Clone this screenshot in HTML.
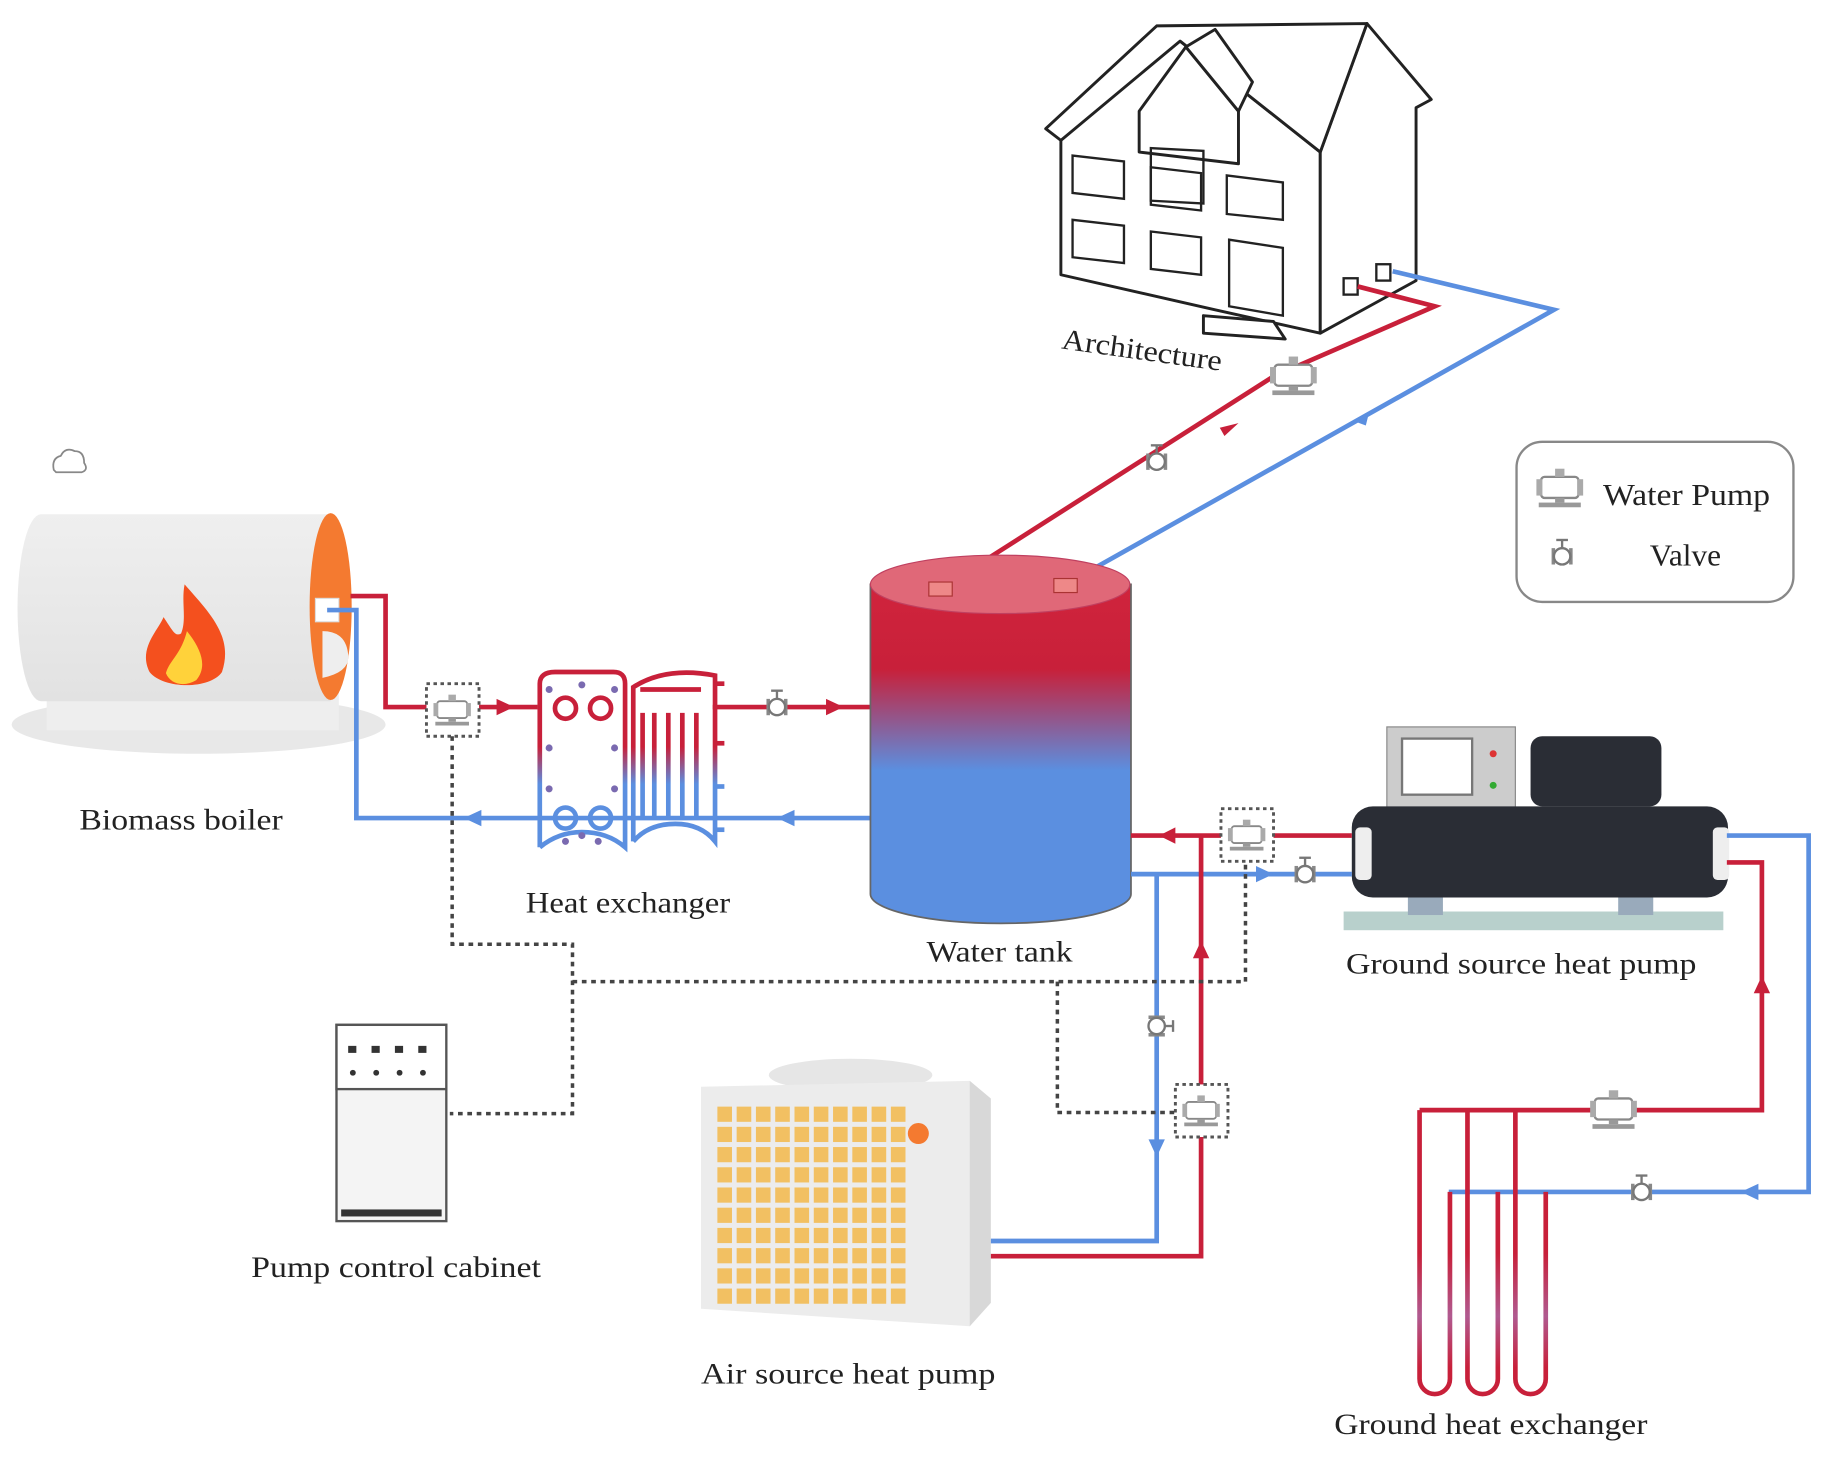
<!DOCTYPE html>
<html><head><meta charset="utf-8"><style>
html,body{margin:0;padding:0;background:#fff}
svg{display:block}
text{font-family:"Liberation Serif",serif;fill:#222}
</style></head><body>
<svg width="1832" height="1462" viewBox="0 0 1568 1251" xmlns="http://www.w3.org/2000/svg">
<defs>
<linearGradient id="tank" x1="0" y1="0" x2="0" y2="1">
<stop offset="0" stop-color="#d0243c"/><stop offset="0.25" stop-color="#c8203a"/><stop offset="0.55" stop-color="#5b8fe0"/><stop offset="1" stop-color="#5b8fe0"/></linearGradient>
<linearGradient id="hx" gradientUnits="userSpaceOnUse" x1="0" y1="575" x2="0" y2="735">
<stop offset="0" stop-color="#c8203a"/><stop offset="0.4" stop-color="#c8203a"/><stop offset="0.6" stop-color="#5b8fe0"/><stop offset="1" stop-color="#5b8fe0"/></linearGradient>
<linearGradient id="gh" gradientUnits="userSpaceOnUse" x1="0" y1="950" x2="0" y2="1195">
<stop offset="0" stop-color="#c8203a"/><stop offset="0.5" stop-color="#c8203a"/><stop offset="0.72" stop-color="#b05a90"/><stop offset="0.9" stop-color="#c8203a"/><stop offset="1" stop-color="#c8203a"/></linearGradient>
<linearGradient id="boil" x1="0" y1="0" x2="0" y2="1">
<stop offset="0" stop-color="#efefef"/><stop offset="1" stop-color="#e2e2e2"/></linearGradient>
<g id="valve"><rect x="-9" y="-7" width="3" height="14" fill="#888"/><rect x="6" y="-7" width="3" height="14" fill="#888"/><circle r="7" fill="#fff" stroke="#777" stroke-width="2"/><line x1="0" y1="-7" x2="0" y2="-14" stroke="#777" stroke-width="2"/><line x1="-5" y1="-14" x2="5" y2="-14" stroke="#777" stroke-width="2"/></g>
<g id="pump"><rect x="-16" y="-10" width="32" height="18" rx="3" fill="#fff" stroke="#888" stroke-width="2"/><rect x="-20" y="-8" width="5" height="14" fill="#aaa"/><rect x="15" y="-8" width="5" height="14" fill="#aaa"/><rect x="-4" y="-17" width="8" height="7" fill="#aaa"/><rect x="-18" y="12" width="36" height="4" fill="#999"/><rect x="-4" y="8" width="8" height="4" fill="#999"/></g>
</defs>

<!-- House -->
<g fill="#fff" stroke="#222" stroke-width="2.5" stroke-linejoin="round">
<polygon points="908,205 908,110 1010,35 1130,130 1130,285 1040,265 908,235"/>
<polygon points="1130,130 1170,20 1225,85 1212,92 1212,240 1130,285"/>
<polygon points="895,110 990,22 1170,20 1130,130 1010,35 908,120"/>
<polygon points="975,95 1015,40 1060,95 1060,140 975,130"/>
<polygon points="1015,40 1040,25 1072,70 1060,95"/>
<polygon points="1030,270 1090,275 1100,290 1030,285"/>
</g>
<g fill="none" stroke="#222" stroke-width="2">
<rect x="985" y="75" width="45" height="45" transform="skewY(3)"/>
<polygon points="918,133 962,138 962,170 918,165"/><polygon points="985,143 1028,148 1028,180 985,175"/><polygon points="1050,150 1098,156 1098,188 1050,183"/>
<polygon points="918,188 962,193 962,225 918,220"/><polygon points="985,198 1028,203 1028,235 985,230"/><polygon points="1052,205 1098,212 1098,270 1052,262"/>
</g>
<rect x="1150" y="238" width="12" height="14" fill="#fff" stroke="#222" stroke-width="2"/><rect x="1178" y="226" width="12" height="14" fill="#fff" stroke="#222" stroke-width="2"/>
<text x="908" y="298" font-size="25" textLength="138" lengthAdjust="spacingAndGlyphs" transform="rotate(8 908 298)">Architecture</text>

<!-- pipes: tank to house -->
<polyline points="803,505 1090,322 1228,262 1162,245" fill="none" stroke="#c8203a" stroke-width="4"/>
<polyline points="912,500 1330,265 1192,232" fill="none" stroke="#5b8fe0" stroke-width="4"/>
<polygon points="1060,362 1044,366 1048,373" fill="#c8203a"/>
<polygon points="1158,360 1172,352 1169,364" fill="#5b8fe0"/>
<use href="#pump" transform="translate(1107,322)"/>
<use href="#valve" transform="translate(990,395)"/>

<!-- legend -->
<rect x="1298" y="378" width="237" height="137" rx="22" fill="#fff" stroke="#888" stroke-width="2"/>
<use href="#pump" transform="translate(1335,418)"/>
<use href="#valve" transform="translate(1337,476)"/>
<text x="1372" y="432" font-size="26" textLength="143" lengthAdjust="spacingAndGlyphs">Water Pump</text>
<text x="1412" y="484" font-size="26" textLength="61" lengthAdjust="spacingAndGlyphs">Valve</text>

<!-- boiler -->
<path d="M46,402 Q44,392 52,390 Q56,382 64,386 Q72,386 72,396 Q76,402 70,404 L48,404 Z" fill="none" stroke="#888" stroke-width="1.5"/>
<ellipse cx="170" cy="620" rx="160" ry="25" fill="#e8e8e8"/>
<rect x="40" y="585" width="250" height="40" fill="#eee"/>
<path d="M35,440 L283,440 L283,600 L35,600 A20,80 0 0 1 35,440 Z" fill="url(#boil)"/>
<ellipse cx="283" cy="519" rx="18" ry="80" fill="#f47a30"/>
<rect x="270" y="512" width="20" height="20" fill="#fff" stroke="#ddd"/>
<path d="M276,540 L276,580 Q300,575 298,560 Q296,540 276,540 Z" fill="#eee"/>
<path d="M158,500 C180,525 200,545 190,575 C180,590 140,590 128,575 C118,555 135,540 140,528 C148,540 150,545 155,542 C160,530 155,515 158,500 Z" fill="#f4501e"/>
<path d="M160,540 C172,555 178,570 168,582 C158,588 146,586 142,576 C145,565 155,560 160,540 Z" fill="#ffd23a"/>
<text x="68" y="710" font-size="25" textLength="174" lengthAdjust="spacingAndGlyphs">Biomass  boiler</text>

<!-- boiler pipes -->
<polyline points="300,510 330,510 330,605 460,605" fill="none" stroke="#c8203a" stroke-width="4"/>
<polyline points="280,522 305,522 305,700 745,700" fill="none" stroke="#5b8fe0" stroke-width="4"/>
<polygon points="440,605 425,598 425,612" fill="#c8203a"/>
<polygon points="397,700 412,693 412,707" fill="#5b8fe0"/>
<polygon points="665,700 680,693 680,707" fill="#5b8fe0"/>
<polyline points="610,605 745,605" fill="none" stroke="#c8203a" stroke-width="4"/>
<polygon points="722,605 707,598 707,612" fill="#c8203a"/>
<use href="#valve" transform="translate(665,605)"/>
<g><rect x="365" y="585" width="45" height="45" fill="#fff" stroke="#555" stroke-width="2.5" stroke-dasharray="3,3"/><use href="#pump" transform="translate(387,608) scale(0.8)"/></g>

<!-- heat exchanger -->
<g fill="none" stroke="url(#hx)" stroke-width="4">
<path d="M462,725 L462,585 Q462,575 475,575 L525,575 Q535,575 535,585 L535,725 Q520,712 498,712 Q478,712 462,725"/>
<path d="M542,720 L542,588 Q570,570 612,578 L612,720 Q600,705 578,705 Q555,705 542,720"/>
<circle cx="484" cy="606" r="9"/><circle cx="514" cy="606" r="9"/><circle cx="484" cy="700" r="9"/><circle cx="514" cy="700" r="9"/>
<line x1="550" y1="610" x2="550" y2="700"/><line x1="560" y1="610" x2="560" y2="700"/><line x1="572" y1="610" x2="572" y2="700"/><line x1="584" y1="610" x2="584" y2="700"/><line x1="596" y1="610" x2="596" y2="700"/>
<line x1="612" y1="585" x2="620" y2="585"/><line x1="612" y1="636" x2="620" y2="636"/><line x1="612" y1="673" x2="620" y2="673"/><line x1="612" y1="710" x2="620" y2="710"/>
<line x1="548" y1="590" x2="600" y2="590"/>
</g>
<g fill="#7a6ab0"><circle cx="470" cy="590" r="3"/><circle cx="498" cy="586" r="3"/><circle cx="526" cy="590" r="3"/><circle cx="470" cy="640" r="3"/><circle cx="526" cy="640" r="3"/><circle cx="470" cy="675" r="3"/><circle cx="526" cy="675" r="3"/><circle cx="484" cy="720" r="3"/><circle cx="498" cy="715" r="3"/><circle cx="512" cy="720" r="3"/></g>

<!-- tank -->
<path d="M745,500 L745,765 A111,25 0 0 0 968,765 L968,500 Z" fill="url(#tank)" stroke="#666" stroke-width="1.5"/>
<ellipse cx="856" cy="500" rx="111" ry="25" fill="#e06878" stroke="#c04060" stroke-width="1"/>
<rect x="795" y="498" width="20" height="12" fill="#e88" stroke="#a33"/><rect x="902" y="495" width="20" height="12" fill="#e88" stroke="#a33"/>
<text x="450" y="781" font-size="25" textLength="175" lengthAdjust="spacingAndGlyphs">Heat exchanger</text>
<text x="793" y="823" font-size="25" textLength="125" lengthAdjust="spacingAndGlyphs">Water tank</text>

<!-- GSHP -->
<rect x="1150" y="780" width="325" height="16" fill="#b8d0cc"/>
<rect x="1205" y="765" width="30" height="18" fill="#9ab"/><rect x="1385" y="765" width="30" height="18" fill="#9ab"/>
<rect x="1187" y="622" width="110" height="70" fill="#ccc" stroke="#888"/>
<rect x="1200" y="632" width="60" height="48" fill="#fff" stroke="#777" stroke-width="2"/>
<circle cx="1278" cy="645" r="3" fill="#d33"/><circle cx="1278" cy="672" r="3" fill="#3a3"/>
<rect x="1310" y="630" width="112" height="60" rx="10" fill="#2a2d35"/>
<rect x="1157" y="690" width="322" height="78" rx="18" fill="#2a2d35"/>
<rect x="1160" y="708" width="14" height="45" rx="4" fill="#eee"/><rect x="1466" y="708" width="14" height="45" rx="4" fill="#eee"/>
<text x="1152" y="833" font-size="25" textLength="300" lengthAdjust="spacingAndGlyphs">Ground  source  heat  pump</text>

<!-- tank to GSHP -->
<polyline points="1157,715 968,715" fill="none" stroke="#c8203a" stroke-width="4"/>
<polygon points="992,715 1006,708 1006,722" fill="#c8203a"/>
<polyline points="968,748 1157,748" fill="none" stroke="#5b8fe0" stroke-width="4"/>
<polygon points="1090,748 1075,741 1075,755" fill="#5b8fe0"/>
<use href="#valve" transform="translate(1117,748)"/>
<g><rect x="1045" y="692" width="45" height="45" fill="#fff" stroke="#555" stroke-width="2.5" stroke-dasharray="3,3"/><use href="#pump" transform="translate(1067,715) scale(0.8)"/></g>

<!-- ASHP pipes -->
<polyline points="1028,715 1028,1075 820,1075" fill="none" stroke="#c8203a" stroke-width="4"/>
<polyline points="990,748 990,1062 835,1062" fill="none" stroke="#5b8fe0" stroke-width="4"/>
<polygon points="1028,805 1021,820 1035,820" fill="#c8203a"/>
<polygon points="990,990 983,975 997,975" fill="#5b8fe0"/>
<use href="#valve" transform="translate(990,878) rotate(90)"/>
<g><rect x="1006" y="928" width="45" height="45" fill="#fff" stroke="#555" stroke-width="2.5" stroke-dasharray="3,3"/><use href="#pump" transform="translate(1028,951) scale(0.8)"/></g>

<!-- ASHP -->
<ellipse cx="728" cy="920" rx="70" ry="14" fill="#e6e6e6"/>
<polygon points="600,930 830,925 848,940 848,1115 830,1135 600,1120" fill="#ececec"/>
<polygon points="830,925 848,940 848,1115 830,1135" fill="#d8d8d8"/>
<g id="grid"></g>
<circle cx="786" cy="970" r="9" fill="#f47a30"/>
<text x="600" y="1184" font-size="25" textLength="252" lengthAdjust="spacingAndGlyphs">Air  source  heat  pump</text>

<!-- ground HX -->
<polyline points="1478,738 1508,738 1508,950 1215,950" fill="none" stroke="#c8203a" stroke-width="4"/>
<polygon points="1508,835 1501,850 1515,850" fill="#c8203a"/>
<polyline points="1478,715 1548,715 1548,1020 1240,1020" fill="none" stroke="#5b8fe0" stroke-width="4"/>
<polygon points="1490,1020 1505,1013 1505,1027" fill="#5b8fe0"/>
<use href="#pump" transform="translate(1381,950)"/>
<use href="#valve" transform="translate(1405,1020)"/>
<g fill="none" stroke="url(#gh)" stroke-width="4">
<path d="M1215,950 L1215,1180 A13,13 0 0 0 1241,1180 L1241,1020"/>
<path d="M1256,950 L1256,1180 A13,13 0 0 0 1282,1180 L1282,1020"/>
<path d="M1297,950 L1297,1180 A13,13 0 0 0 1323,1180 L1323,1020"/>
</g>
<text x="1142" y="1227" font-size="25" textLength="268" lengthAdjust="spacingAndGlyphs">Ground heat exchanger</text>

<!-- control lines -->
<g fill="none" stroke="#444" stroke-width="3" stroke-dasharray="4,4">
<polyline points="387,630 387,808 490,808 490,953 385,953"/>
<polyline points="490,840 1066,840 1066,737"/>
<polyline points="905,840 905,952 1006,952"/>
</g>

<!-- cabinet -->
<rect x="288" y="877" width="94" height="168" fill="#f4f4f4" stroke="#555" stroke-width="2"/>
<rect x="288" y="877" width="94" height="55" fill="#fff" stroke="#555" stroke-width="2"/>
<g fill="#333"><rect x="298" y="895" width="7" height="6"/><rect x="318" y="895" width="7" height="6"/><rect x="338" y="895" width="7" height="6"/><rect x="358" y="895" width="7" height="6"/>
<circle cx="302" cy="918" r="2.5"/><circle cx="322" cy="918" r="2.5"/><circle cx="342" cy="918" r="2.5"/><circle cx="362" cy="918" r="2.5"/>
<rect x="292" y="1035" width="86" height="6"/></g>
<text x="215" y="1093" font-size="25" textLength="248" lengthAdjust="spacingAndGlyphs">Pump  control  cabinet</text>
</svg>
<script>
(function(){var g=document.getElementById('grid'),s='';for(var r=0;r<10;r++)for(var c=0;c<10;c++){s+='<rect x="'+(614+c*16.5)+'" y="'+(947+r*17.3)+'" width="12.5" height="13" fill="#f2c062"/>';}g.innerHTML=s;})();
</script>
</body></html>
